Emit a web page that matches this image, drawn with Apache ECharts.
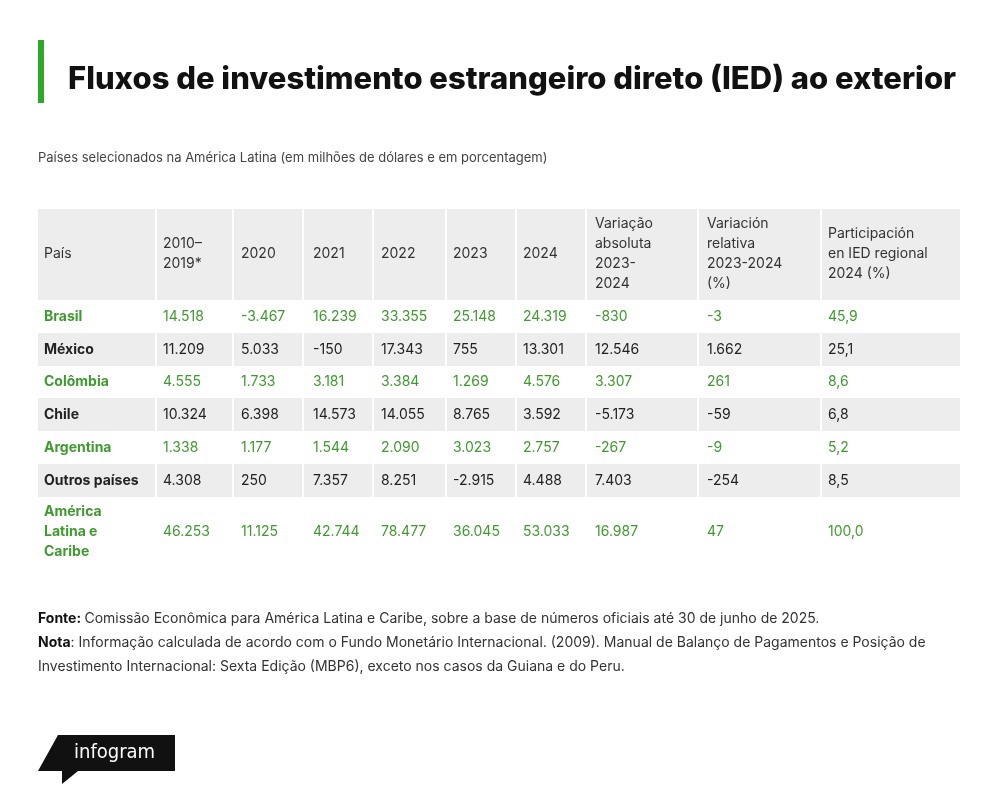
<!DOCTYPE html>
<html><head><meta charset="utf-8">
<script src="https://cdn.jsdelivr.net/npm/echarts@6/dist/echarts.min.js"></script>
<style>html,body{margin:0;padding:0;background:#fff}#c{width:1000px;height:803px}</style>
</head><body><div id="c"></div>
<script>
// dados da tabela
const headers = ['País', '2010–\n2019*', '2020', '2021', '2022', '2023', '2024',
  'Variação\nabsoluta\n2023-\n2024', 'Variación\nrelativa\n2023-2024\n(%)', 'Participación\nen IED regional\n2024 (%)'];
const countries = ['Brasil', 'México', 'Colômbia', 'Chile', 'Argentina', 'Outros países', 'América\nLatina e\nCaribe'];
const v2010_2019 = ['14.518', '11.209', '4.555', '10.324', '1.338', '4.308', '46.253'];
const v2020 = ['-3.467', '5.033', '1.733', '6.398', '1.177', '250', '11.125'];
const v2021 = ['16.239', '-150', '3.181', '14.573', '1.544', '7.357', '42.744'];
const v2022 = ['33.355', '17.343', '3.384', '14.055', '2.090', '8.251', '78.477'];
const v2023 = ['25.148', '755', '1.269', '8.765', '3.023', '-2.915', '36.045'];
const v2024 = ['24.319', '13.301', '4.576', '3.592', '2.757', '4.488', '53.033'];
const varAbs = ['-830', '12.546', '3.307', '-5.173', '-267', '7.403', '16.987'];
const varRel = ['-3', '1.662', '261', '-59', '-9', '-254', '47'];
const share = ['45,9', '25,1', '8,6', '6,8', '5,2', '8,5', '100,0'];
const highlighted = [true, false, true, false, true, false, true];

// layout
const colLeft = [38, 155, 232, 302, 372, 445, 515, 585, 697, 820];
const colText = [44, 163, 241, 313, 381, 453, 523, 595, 707, 828];
const rowTop = [300, 333, 366, 398, 431, 464, 497];
const rowBottom = [333, 366, 398, 431, 464, 497, 566];
const GREEN = '#3f9b2f';
const F = 'Inter, "Noto Sans", sans-serif';

const columns = [countries, v2010_2019, v2020, v2021, v2022, v2023, v2024, varAbs, varRel, share];
const cells = [];
headers.forEach((h, c) => cells.push([c, -1, h]));
countries.forEach((_, r) => columns.forEach((col, c) => cells.push([c, r, col[r]])));

const graphics = [
  { type: 'rect', shape: { x: 38, y: 40, width: 6, height: 63 }, style: { fill: '#2fa82a' } },
  { type: 'text', x: 68, y: 80, style: { text: 'Fluxos de investimento estrangeiro direto (IED) ao exterior', font: '800 31px ' + F, fill: '#111', verticalAlign: 'middle' } },
  { type: 'text', x: 38, y: 158, style: { text: 'Países selecionados na América Latina (em milhões de dólares e em porcentagem)', font: '13px ' + F, fill: '#444', verticalAlign: 'middle' } },
  { type: 'rect', shape: { x: 38, y: 209, width: 922, height: 91 }, style: { fill: '#ededed' } },
  { type: 'text', x: 38, y: 619, style: { rich: { b: { font: 'bold 14px ' + F, fill: '#111' }, n: { font: '14px ' + F, fill: '#333' } }, text: '{b|Fonte:} {n|Comissão Econômica para América Latina e Caribe, sobre a base de números oficiais até 30 de junho de 2025.}', verticalAlign: 'middle' } },
  { type: 'text', x: 38, y: 643, style: { rich: { b: { font: 'bold 14px ' + F, fill: '#111' }, n: { font: '14px ' + F, fill: '#333' } }, text: '{b|Nota}{n|: Informação calculada de acordo com o Fundo Monetário Internacional. (2009). Manual de Balanço de Pagamentos e Posição de}', verticalAlign: 'middle' } },
  { type: 'text', x: 38, y: 667, style: { text: 'Investimento Internacional: Sexta Edição (MBP6), exceto nos casos da Guiana e do Peru.', font: '14px ' + F, fill: '#333', verticalAlign: 'middle' } },
  { type: 'polygon', shape: { points: [[58, 735], [175, 735], [175, 771], [78, 771], [62, 784], [62, 771], [38, 771]] }, style: { fill: '#111' } },
  { type: 'text', x: 74, y: 753, style: { text: 'infogram', font: '20px "DejaVu Sans Condensed", sans-serif', fill: '#fff', verticalAlign: 'middle' } }
];
rowTop.forEach((t, r) => {
  if (r % 2 === 1) graphics.push({ type: 'rect', shape: { x: 38, y: t, width: 922, height: rowBottom[r] - t }, style: { fill: '#ededed' } });
});
colLeft.slice(1).forEach(x => graphics.push({ type: 'rect', shape: { x: x, y: 209, width: 2, height: 357 }, style: { fill: '#fff' }, z: 5 }));

const chart = echarts.init(document.getElementById('c'));
chart.setOption({
  animation: false,
  grid: { left: 0, right: 0, top: 0, bottom: 0 },
  xAxis: { type: 'value', min: 0, max: 1000, show: false },
  yAxis: { type: 'value', min: 0, max: 803, inverse: true, show: false },
  graphic: graphics,
  series: [{
    type: 'custom',
    coordinateSystem: 'cartesian2d',
    z: 10,
    data: cells,
    renderItem: function (params, api) {
      const c = api.value(0), r = api.value(1);
      const txt = cells[params.dataIndex][2];
      const y = r < 0 ? 254 : (rowTop[r] + rowBottom[r]) / 2;
      const p = api.coord([colText[c], y]);
      const green = r >= 0 && highlighted[r];
      return {
        type: 'text',
        x: p[0], y: p[1],
        style: {
          text: txt,
          font: ((r >= 0 && c === 0) ? 'bold ' : '') + '14px ' + F,
          lineHeight: 20,
          fill: green ? GREEN : (r < 0 ? '#333' : '#222'),
          verticalAlign: 'middle'
        }
      };
    }
  }]
});
</script></body></html>
